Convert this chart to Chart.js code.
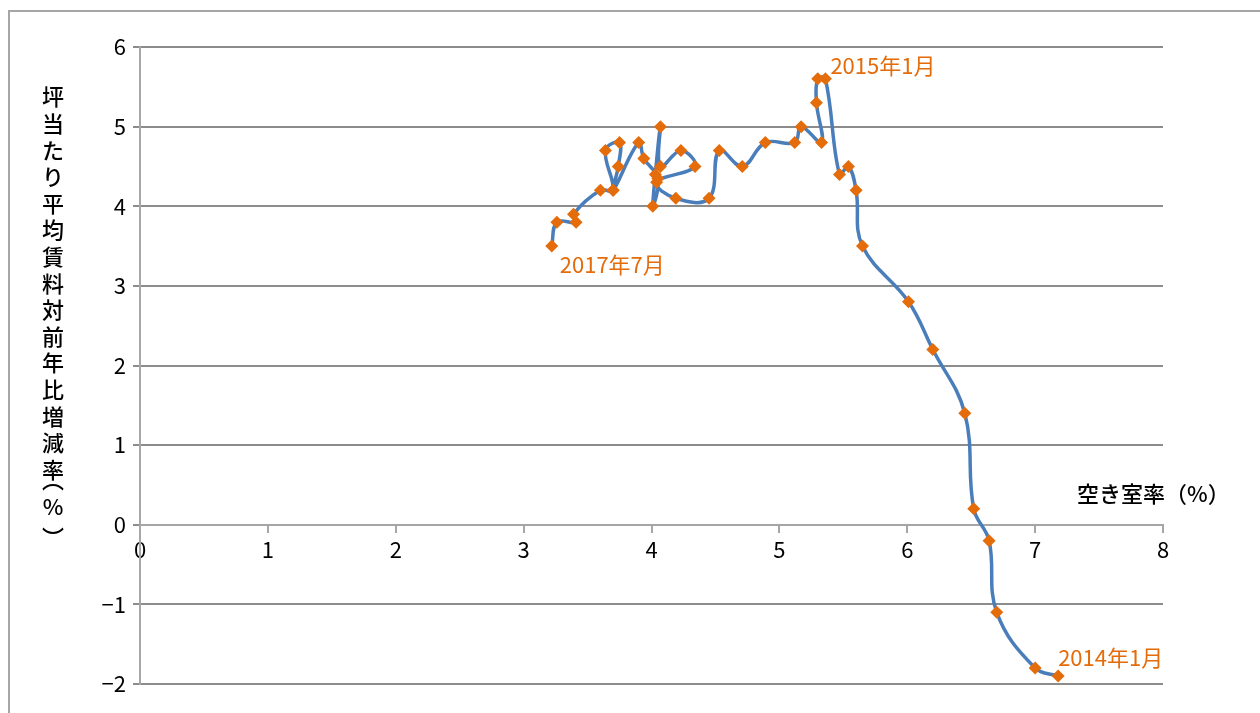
<!DOCTYPE html>
<html>
<head>
<meta charset="utf-8">
<script src="https://cdn.jsdelivr.net/npm/chart.js@4.4.1/dist/chart.umd.min.js"></script>
<style>
  html, body { margin: 0; padding: 0; background: #fff; overflow: hidden; }
  #wrap { position: relative; width: 1260px; height: 713px; }
  #frame { position: absolute; left: 8px; top: 10px; width: 1300px; height: 800px;
           border-left: 2px solid #a6a6a6; border-top: 2px solid #a6a6a6; }
  canvas { position: absolute; left: 0; top: 0; }
</style>
</head>
<body>
<div id="wrap">
  <div id="frame"></div>
  <canvas id="chart" width="1260" height="713"></canvas>
</div>
<script>
// monthly points, 2014年1月 .. 2017年7月 (time order)
var vacancy = [7.18, 7.00, 6.70, 6.64, 6.52, 6.45, 6.20, 6.01, 5.65, 5.60, 5.54, 5.47,
               5.36, 5.30, 5.29, 5.33, 5.17, 5.12, 4.89, 4.71, 4.53, 4.45, 4.19, 4.04,
               4.34, 4.23, 4.07, 4.07, 4.03, 4.01, 4.05, 3.94, 3.90, 3.70, 3.74, 3.75,
               3.64, 3.70, 3.60, 3.39, 3.41, 3.26, 3.22];
var rent_growth = [-1.9, -1.8, -1.1, -0.2, 0.2, 1.4, 2.2, 2.8, 3.5, 4.2, 4.5, 4.4,
                   5.6, 5.6, 5.3, 4.8, 5.0, 4.8, 4.8, 4.5, 4.7, 4.1, 4.1, 4.3,
                   4.5, 4.7, 4.5, 5.0, 4.4, 4.0, 4.35, 4.6, 4.8, 4.2, 4.5, 4.8,
                   4.7, 4.2, 4.2, 3.9, 3.8, 3.8, 3.5];

var x_min = 0, x_max = 8;
var y_min = -2, y_max = 6;

var label_index = [0, 12, 42];
var label_text = ['2014年1月', '2015年1月', '2017年7月'];

var x_title = '空き室率（%）';
var y_title = ['坪', '当', 'た', 'り', '平', '均', '賃', '料', '対', '前', '年', '比', '増', '減', '率', '︵', '%', '︶'];

var FONT = '"Noto Sans CJK JP", sans-serif';
var ORANGE = '#e46c0a';

var points = vacancy.map(function (v, i) { return { x: v, y: rent_growth[i] }; });

// text offsets for the three point labels (left aligned)
var label_offsets = [[0, -18], [5, -13], [8, 19]];

var textPlugin = {
  id: 'texts',
  afterDraw: function (chart) {
    var ctx = chart.ctx;
    var meta = chart.getDatasetMeta(0);
    ctx.save();
    ctx.font = '22px ' + FONT;
    ctx.fillStyle = ORANGE;
    ctx.textAlign = 'left';
    ctx.textBaseline = 'middle';
    for (var i = 0; i < label_index.length; i++) {
      var pt = meta.data[label_index[i]];
      ctx.fillText(label_text[i], pt.x + label_offsets[i][0], pt.y + label_offsets[i][1]);
    }

    // x axis title
    ctx.fillStyle = '#000';
    ctx.font = '500 22px ' + FONT;
    ctx.textAlign = 'left';
    ctx.fillText(x_title, 1077, 494);

    // y axis title, stacked upright; the vertical brackets sit off-centre in their box
    ctx.textAlign = 'center';
    var steps = { 15: 10.5, 16: 27, 17: 31 };
    var y = 97;
    for (var k = 0; k < y_title.length; k++) {
      if (k > 0) y += steps[k] || 26.6;
      ctx.fillText(y_title[k], 53, y);
    }
    ctx.restore();
  }
};

var chart = new Chart(document.getElementById('chart'), {
  type: 'scatter',
  data: {
    datasets: [{
      data: points,
      showLine: true,
      tension: 0.4,
      borderColor: '#4a7ebb',
      borderWidth: 3.5,
      pointStyle: 'rectRot',
      pointRadius: 6.5,
      pointBackgroundColor: ORANGE,
      pointBorderWidth: 0,
      clip: false
    }]
  },
  options: {
    responsive: false,
    animation: false,
    layout: { padding: { left: 0, top: 47, right: 97, bottom: 29 } },
    plugins: { legend: { display: false }, tooltip: { enabled: false } },
    scales: {
      x: {
        type: 'linear',
        position: { y: 0 },
        min: x_min, max: x_max,
        afterFit: function (s) { s.height = 0; },
        ticks: {
          stepSize: 1, color: '#000', padding: 5, maxRotation: 0,
          font: { size: 22, family: FONT }
        },
        grid: { drawOnChartArea: false, color: '#a6a6a6', lineWidth: 2, tickLength: 7 },
        border: { color: '#a6a6a6', width: 2 }
      },
      y: {
        min: y_min, max: y_max,
        afterFit: function (s) { s.width = 140; },
        ticks: {
          stepSize: 1, color: '#000', padding: 7,
          font: { size: 22, family: FONT },
          callback: function (v) { return String(v).replace('-', '\u2212'); }
        },
        grid: { color: '#8c8c8c', lineWidth: 2, tickLength: 7 },
        border: { color: '#a6a6a6', width: 2 }
      }
    }
  },
  plugins: [textPlugin]
});
</script>
</body>
</html>
